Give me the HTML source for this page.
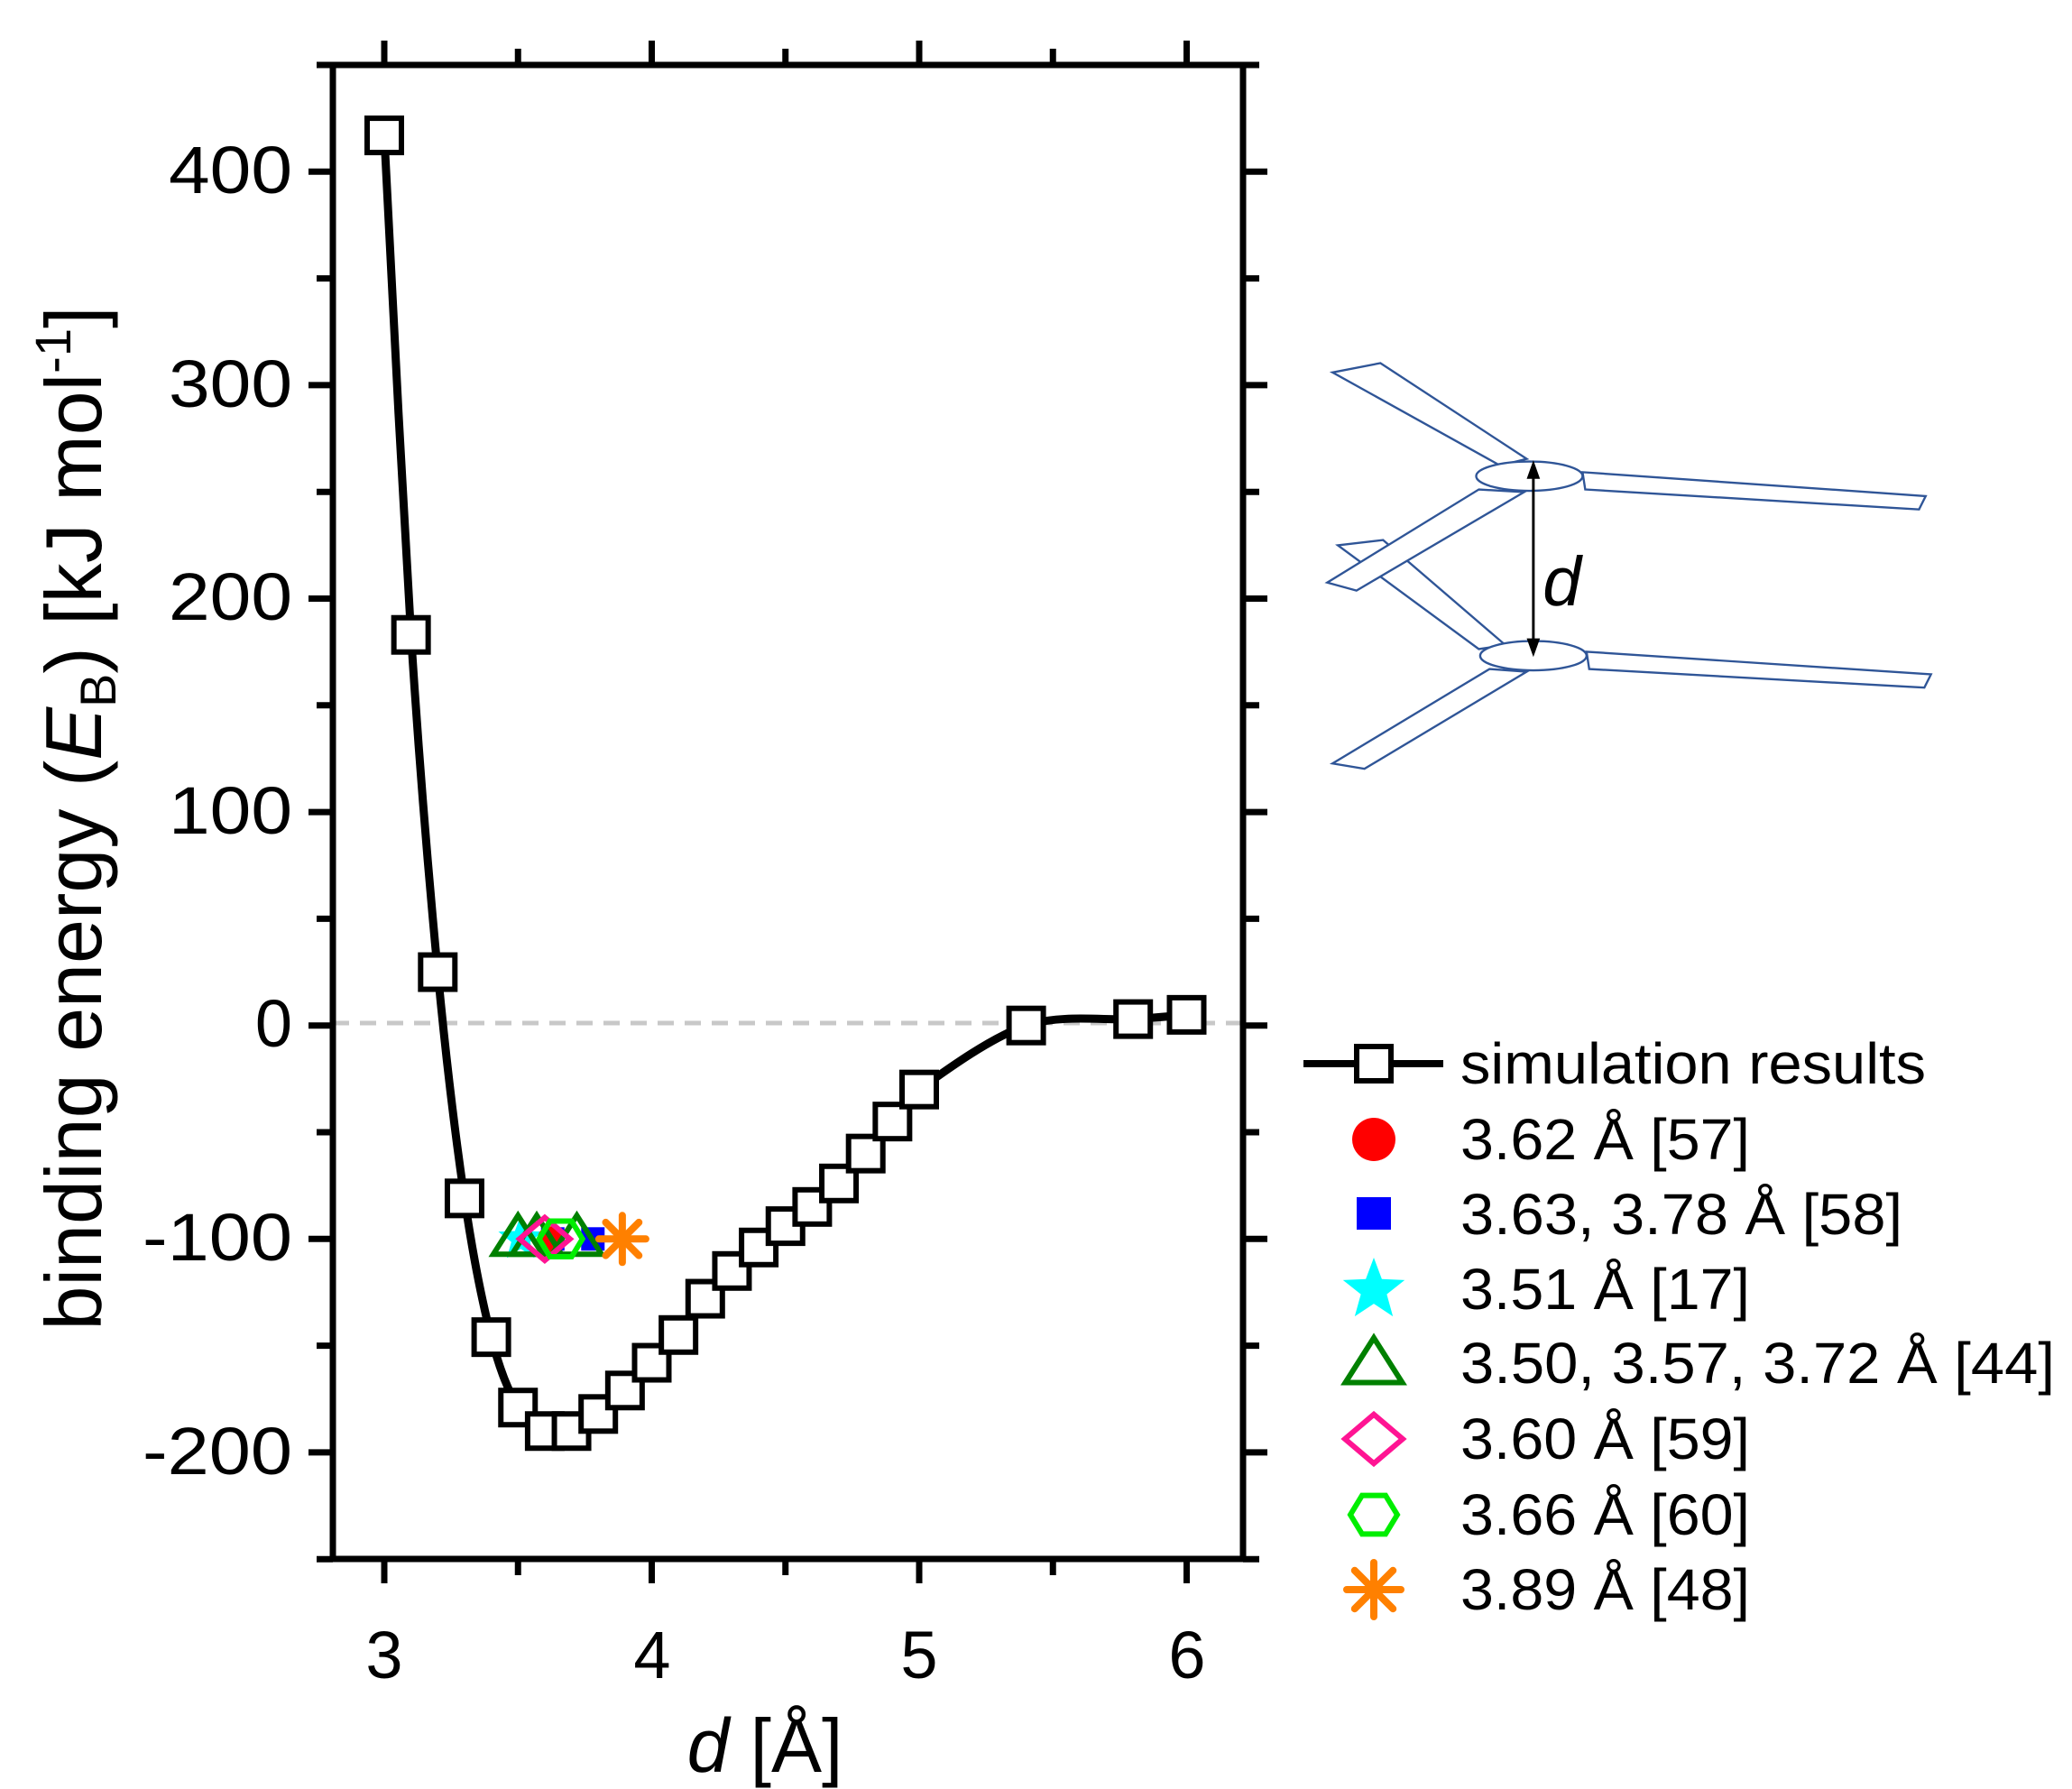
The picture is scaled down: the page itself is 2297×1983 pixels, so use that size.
<!DOCTYPE html>
<html><head><meta charset="utf-8"><style>
html,body{margin:0;padding:0;background:#fff;}
svg{display:block;font-family:"Liberation Sans",sans-serif;}
</style></head><body>
<svg id="s" width="2297" height="1983" viewBox="0 0 2297 1983" xmlns="http://www.w3.org/2000/svg">
<rect width="2297" height="1983" fill="#fff"/>
<line x1="369" y1="1134" x2="1378" y2="1134" stroke="#c8c8c8" stroke-width="5" stroke-dasharray="18,12"/>
<g id="ticks" stroke="#000" stroke-width="7"></g>
<rect x="369" y="72" width="1009" height="1656" fill="none" stroke="#000" stroke-width="7"/>
<path id="curve" fill="none" stroke="#000" stroke-width="9"/>
<g id="exp"></g>
<g id="pts" fill="#fff" stroke="#000" stroke-width="6"></g>
<g font-size="74" text-anchor="end" fill="#000">
<text x="324" y="214" textLength="137" lengthAdjust="spacingAndGlyphs">400</text>
<text x="324" y="451" textLength="137" lengthAdjust="spacingAndGlyphs">300</text>
<text x="324" y="687" textLength="137" lengthAdjust="spacingAndGlyphs">200</text>
<text x="324" y="924" textLength="137" lengthAdjust="spacingAndGlyphs">100</text>
<text x="324" y="1160">0</text>
<text x="324" y="1397" textLength="166" lengthAdjust="spacingAndGlyphs">-100</text>
<text x="324" y="1634" textLength="166" lengthAdjust="spacingAndGlyphs">-200</text>
</g>
<g font-size="74" text-anchor="middle">
<text x="426" y="1860">3</text><text x="723" y="1860">4</text><text x="1019" y="1860">5</text><text x="1316" y="1860">6</text>
</g>
<text x="848" y="1964" font-size="84" text-anchor="middle"><tspan font-style="italic">d</tspan> [Å]</text>
<text transform="translate(112,907) rotate(-90)" font-size="88" text-anchor="middle" textLength="1135" lengthAdjust="spacingAndGlyphs">binding energy (<tspan font-style="italic">E</tspan><tspan font-size="56" dy="16">B</tspan><tspan dy="-16">) [kJ mol</tspan><tspan font-size="56" dy="-34">-1</tspan><tspan dy="34">]</tspan></text>
<g transform="scale(1.4743)" fill="#fff" stroke="#2f5597" stroke-width="1.6">
<polygon points="1006,410 1040,406 1132,485 1112,488"/>
<polygon points="1002,280 1038,273 1148,345 1128,350"/>
<polygon points="1190,355 1448,373 1443,383 1192,368"/>
<ellipse cx="1150" cy="358" rx="40" ry="11"/>
<polygon points="1112,368 1146,370 1020,444 998,438"/>
<polygon points="1193,490 1452,507 1447,517 1195,503"/>
<polygon points="1120,503 1148,505 1026,578 1002,574"/>
<ellipse cx="1153" cy="493" rx="40" ry="11"/>
<g stroke="#000" stroke-width="2" fill="#000">
<line x1="1153" y1="352" x2="1153" y2="488"/>
<polygon points="1153,346 1148,360 1158,360" stroke="none"/>
<polygon points="1153,494 1148,480 1158,480" stroke="none"/>
</g>
<text x="1160" y="455" font-size="52" font-style="italic" fill="#000" stroke="none">d</text>
</g>
<g stroke="#000" stroke-width="8"><line x1="1445" y1="1179" x2="1600" y2="1179"/></g>
<rect x="1504" y="1160" width="38" height="38" fill="#fff" stroke="#000" stroke-width="6"/>
<g id="leg"></g>
<g font-size="64" fill="#000">
<text x="1619" y="1201" textLength="516" lengthAdjust="spacingAndGlyphs">simulation results</text>
<text x="1619" y="1285" textLength="321" lengthAdjust="spacingAndGlyphs">3.62 Å [57]</text>
<text x="1619" y="1368" textLength="490" lengthAdjust="spacingAndGlyphs">3.63, 3.78 Å [58]</text>
<text x="1619" y="1451" textLength="321" lengthAdjust="spacingAndGlyphs">3.51 Å [17]</text>
<text x="1619" y="1533" textLength="659" lengthAdjust="spacingAndGlyphs">3.50, 3.57, 3.72 Å [44]</text>
<text x="1619" y="1617" textLength="321" lengthAdjust="spacingAndGlyphs">3.60 Å [59]</text>
<text x="1619" y="1701" textLength="321" lengthAdjust="spacingAndGlyphs">3.66 Å [60]</text>
<text x="1619" y="1784" textLength="321" lengthAdjust="spacingAndGlyphs">3.89 Å [48]</text>
</g>
</svg>
<script>
var NS="http://www.w3.org/2000/svg";
function X(d){return 426+(d-3)*296.5;}
function Y(v){return 72+(450-v)*2.366;}
function el(p,t,a){var e=document.createElementNS(NS,t);for(var k in a)e.setAttribute(k,a[k]);p.appendChild(e);return e;}
var tk=document.getElementById('ticks');
for(var d=3;d<=6.01;d+=0.5){var maj=Math.abs(d-Math.round(d))<0.01,L=maj?27:18;
el(tk,'line',{x1:X(d),y1:1728,x2:X(d),y2:1728+L});el(tk,'line',{x1:X(d),y1:72,x2:X(d),y2:72-L});}
for(var v=-250;v<=450;v+=50){var maj=(v%100===0),L=maj?27:18;
el(tk,'line',{x1:369,y1:Y(v),x2:369-L,y2:Y(v)});el(tk,'line',{x1:1378,y1:Y(v),x2:1378+L,y2:Y(v)});}
var P=[[3.0,417],[3.1,183],[3.2,25],[3.3,-81],[3.4,-146],[3.5,-179],[3.6,-190],[3.7,-190],[3.8,-182],[3.9,-171],[4.0,-158],[4.1,-145],[4.2,-128],[4.3,-115],[4.4,-104],[4.5,-94],[4.6,-85],[4.7,-74],[4.8,-60],[4.9,-45],[5.0,-30],[5.4,0],[5.8,3],[6.0,5]];
var pts=P.map(function(p){return [X(p[0]),Y(p[1])];});
var dstr="M"+pts[0][0]+","+pts[0][1];
for(var i=0;i<pts.length-1;i++){var p0=pts[Math.max(0,i-1)],p1=pts[i],p2=pts[i+1],p3=pts[Math.min(pts.length-1,i+2)];
var t=6;dstr+=" C"+(p1[0]+(p2[0]-p0[0])/t)+","+(p1[1]+(p2[1]-p0[1])/t)+" "+(p2[0]-(p3[0]-p1[0])/t)+","+(p2[1]-(p3[1]-p1[1])/t)+" "+p2[0]+","+p2[1];}
document.getElementById('curve').setAttribute('d',dstr);
var g=document.getElementById('pts');
pts.forEach(function(p){el(g,'rect',{x:p[0]-19,y:p[1]-19,width:38,height:38});});
function star(g,cx,cy,r,f){var s="";for(var i=0;i<10;i++){var a=-Math.PI/2+i*Math.PI/5,rr=i%2?r*0.42:r;s+=(cx+rr*Math.cos(a))+","+(cy+rr*Math.sin(a))+" ";}el(g,'polygon',{points:s,fill:f});}
function tri(g,cx,cy,r){el(g,'polygon',{points:(cx)+","+(cy-r)+" "+(cx+r*1.05)+","+(cy+r*0.65)+" "+(cx-r*1.05)+","+(cy+r*0.65),fill:"none",stroke:"#008000","stroke-width":6});}
function dia(g,cx,cy,r){el(g,'polygon',{points:cx+","+(cy-r*0.85)+" "+(cx+r)+","+cy+" "+cx+","+(cy+r*0.85)+" "+(cx-r)+","+cy,fill:"none",stroke:"#ff1493","stroke-width":6});}
function hex(g,cx,cy,r){var s="";for(var i=0;i<6;i++){var a=i*Math.PI/3;s+=(cx+r*Math.cos(a))+","+(cy+r*0.95*Math.sin(a))+" ";}el(g,'polygon',{points:s,fill:"none",stroke:"#00ee00","stroke-width":6});}
function ast(g,cx,cy,r){for(var i=0;i<4;i++){var a=i*Math.PI/4;el(g,'line',{x1:cx-r*Math.cos(a),y1:cy-r*Math.sin(a),x2:cx+r*Math.cos(a),y2:cy+r*Math.sin(a),stroke:"#ff8000","stroke-width":8,"stroke-linecap":"round"});}}
var e=document.getElementById('exp'),y0=Y(-100);
star(e,X(3.51),y0,26,"#00ffff");
el(e,'rect',{x:X(3.63)-13,y:y0-13,width:26,height:26,fill:"#0000ff"});
el(e,'rect',{x:X(3.78)-13,y:y0-13,width:26,height:26,fill:"#0000ff"});
el(e,'circle',{cx:X(3.62),cy:y0,r:14,fill:"#ff0000"});
tri(e,X(3.50),y0,26);tri(e,X(3.57),y0,26);tri(e,X(3.72),y0,26);
dia(e,X(3.60),y0,28);hex(e,X(3.66),y0,24);ast(e,X(3.89),y0,26);
var l=document.getElementById('leg'),cx=1523;
el(l,'circle',{cx:cx,cy:1263,r:24,fill:"#ff0000"});
el(l,'rect',{x:cx-19,y:1327,width:38,height:36,fill:"#0000ff"});
star(l,cx,1430,36,"#00ffff");
tri(l,cx,1513,30);dia(l,cx,1595,32);hex(l,cx,1679,26);ast(l,cx,1762,30);
</script>
</body></html>
